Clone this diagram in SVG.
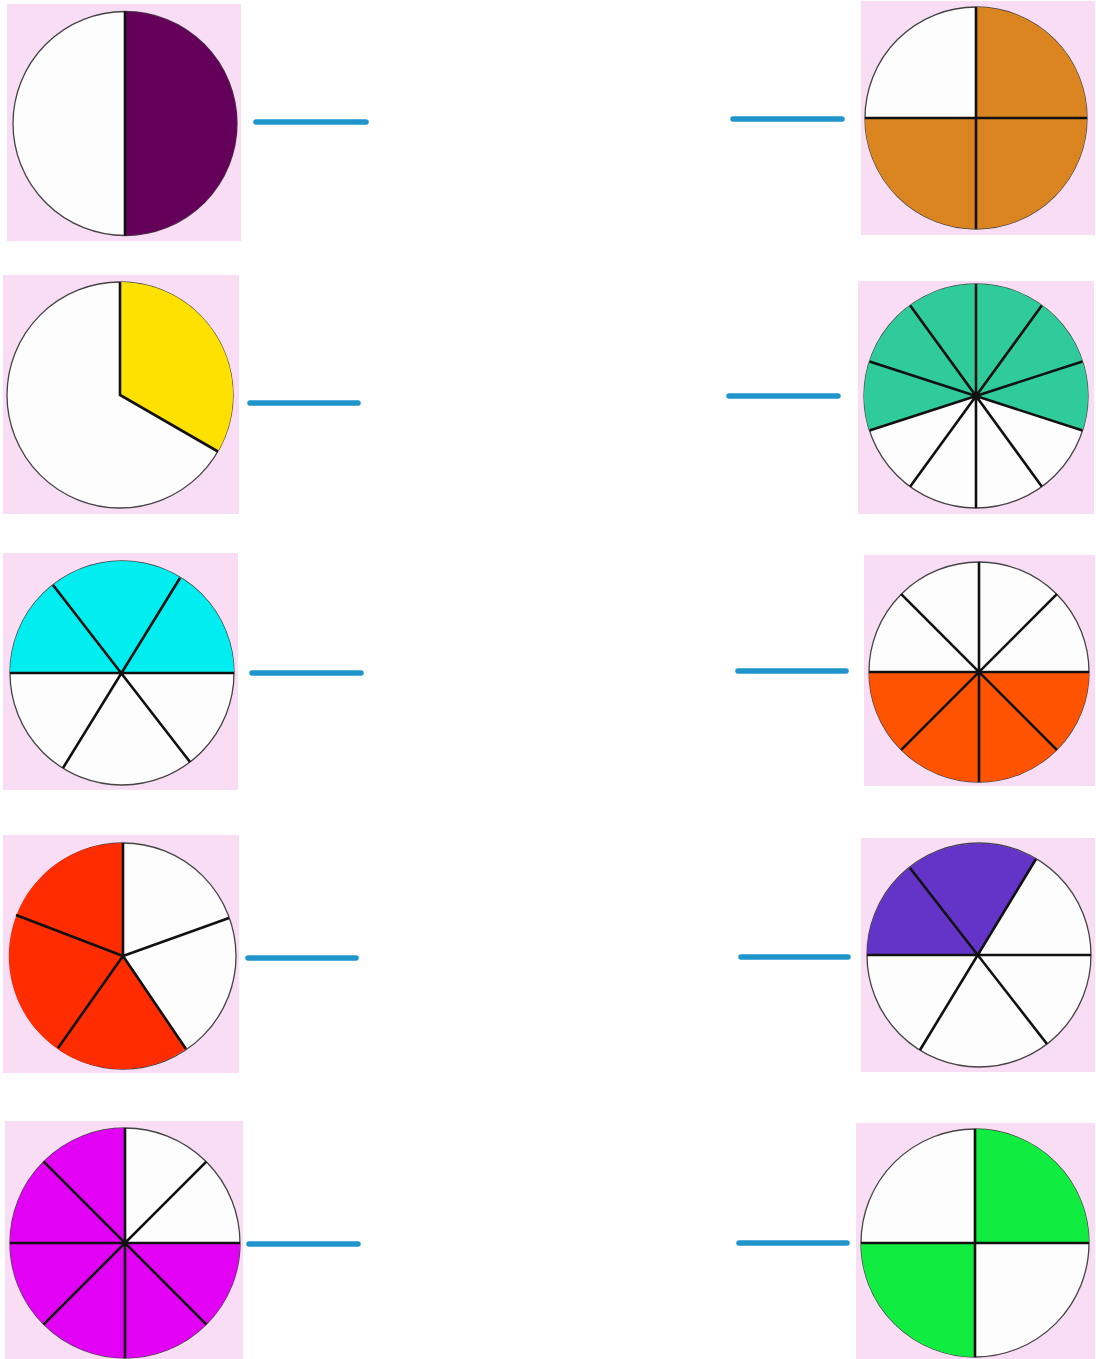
<svg xmlns="http://www.w3.org/2000/svg" width="1096" height="1359" viewBox="0 0 1096 1359">
<style>
.bg{fill:#f9ddf4}
.disc{fill:#fdfdfd;stroke:#444;stroke-width:1.3}
.div{stroke:#111;stroke-width:2.6;stroke-linecap:butt;fill:none}
.ans{stroke:#1f95cc;stroke-width:5.5;stroke-linecap:round}
</style>
<rect width="1096" height="1359" fill="#ffffff"/>

<g id="pie-left-1">
<rect class="bg" x="7" y="4" width="234" height="237"/>
<circle class="disc" cx="125" cy="123.5" r="112"/>
<path d="M125,11.5 A112,112 0 0 1 125,235.5 Z" fill="#65005a"/>
<path class="div" d="M125,11.5 V235.5"/>
</g>

<g id="pie-left-2">
<rect class="bg" x="3" y="275" width="236" height="239"/>
<circle class="disc" cx="120" cy="395" r="113"/>
<path d="M120,395 L120,282 A113,113 0 0 1 217.9,451.5 Z" fill="#ffe100"/>
<path class="div" d="M120,282 L120,395 L217.9,451.5"/>
</g>

<g id="pie-left-3">
<rect class="bg" x="3" y="553" width="235" height="237"/>
<circle class="disc" cx="122" cy="673" r="112"/>
<path d="M10,673 A112,112 0 0 1 234,673 Z" fill="#00eef0"/>
<path class="div" d="M10,673 H234 M53,585 L190,762 M180,578 L63,768"/>
</g>

<g id="pie-left-4">
<rect class="bg" x="3" y="835" width="236" height="238"/>
<circle class="disc" cx="123" cy="956" r="113"/>
<path d="M123,956 L186,1049 A113,113 0 1 1 123,843 Z" fill="#ff2c00"/>
<path class="div" d="M123,956 L123,843 M123,956 L229,918 M123,956 L186,1049 M123,956 L58,1048 M123,956 L16,915"/>
</g>

<g id="pie-left-5">
<rect class="bg" x="5" y="1121" width="238" height="238"/>
<circle class="disc" cx="125" cy="1243" r="115"/>
<path d="M125,1243 L240,1243 A115,115 0 1 1 125,1128 Z" fill="#e200f5"/>
<path class="div" d="M10,1243 H240 M125,1128 V1358 M43.7,1161.7 L206.3,1324.3 M206.3,1161.7 L43.7,1324.3"/>
</g>

<g id="pie-right-1">
<rect class="bg" x="861" y="1" width="234" height="234"/>
<circle class="disc" cx="976" cy="118" r="111"/>
<path d="M976,118 L976,7 A111,111 0 1 1 865,118 Z" fill="#da8520"/>
<path class="div" d="M976,7 V229 M865,118 H1087"/>
</g>

<g id="pie-right-2">
<rect class="bg" x="858" y="281" width="236" height="233"/>
<circle class="disc" cx="976" cy="396" r="112"/>
<path d="M976,396 L869.5,430.6 A112,112 0 1 1 1082.5,430.6 Z" fill="#2fcb9a"/>
<path class="div" d="M976,284 L976,508 M1041.8,305.4 L910.2,486.6 M1082.5,361.4 L869.5,430.6 M1082.5,430.6 L869.5,361.4 M1041.8,486.6 L910.2,305.4"/>
</g>

<g id="pie-right-3">
<rect class="bg" x="864" y="555" width="231" height="231"/>
<circle class="disc" cx="979" cy="672" r="110"/>
<path d="M869,672 A110,110 0 0 0 1089,672 Z" fill="#ff5300"/>
<path class="div" d="M869,672 H1089 M979,562 V782 M901.2,594.2 L1056.8,749.8 M1056.8,594.2 L901.2,749.8"/>
</g>

<g id="pie-right-4">
<rect class="bg" x="861" y="838" width="234" height="234"/>
<circle class="disc" cx="979" cy="955" r="112"/>
<path d="M979,955 L867,955 A112,112 0 0 1 1036,859 Z" fill="#6433c8"/>
<path class="div" d="M867,955 H1091 M910,868 L1047,1044 M1036,859 L920,1050"/>
</g>

<g id="pie-right-5">
<rect class="bg" x="856" y="1123" width="239" height="236"/>
<circle class="disc" cx="975" cy="1243" r="114"/>
<path d="M975,1243 L975,1129 A114,114 0 0 1 1089,1243 Z" fill="#10ec40"/>
<path d="M975,1243 L975,1357 A114,114 0 0 1 861,1243 Z" fill="#10ec40"/>
<path class="div" d="M975,1129 V1357 M861,1243 H1089"/>
</g>

<g id="answer-lines">
<line class="ans" x1="256" y1="122" x2="366" y2="122"/>
<line class="ans" x1="250" y1="403" x2="358" y2="403"/>
<line class="ans" x1="252" y1="673" x2="361" y2="673"/>
<line class="ans" x1="248" y1="958" x2="356" y2="958"/>
<line class="ans" x1="249" y1="1244" x2="358" y2="1244"/>
<line class="ans" x1="733" y1="119" x2="842" y2="119"/>
<line class="ans" x1="729" y1="396" x2="838" y2="396"/>
<line class="ans" x1="738" y1="671" x2="846" y2="671"/>
<line class="ans" x1="741" y1="957" x2="848" y2="957"/>
<line class="ans" x1="739" y1="1243" x2="847" y2="1243"/>
</g>
</svg>
